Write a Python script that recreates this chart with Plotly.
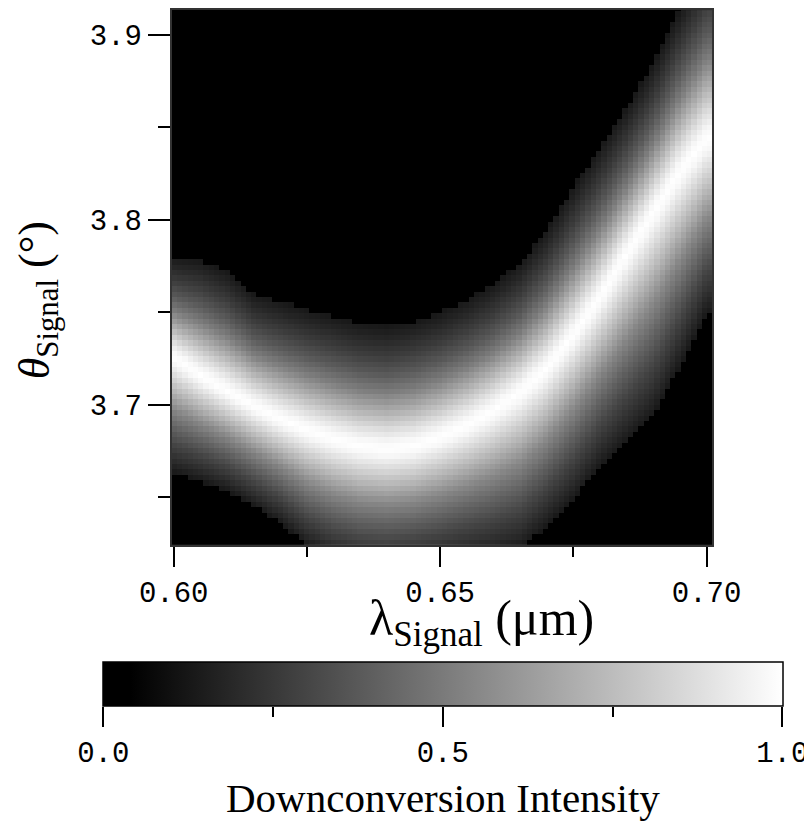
import numpy as np
import plotly.graph_objects as go

# ---- values ----
lam_pts = [0.600, 0.605, 0.610, 0.615, 0.620, 0.625, 0.630, 0.635, 0.640, 0.645, 0.650,
           0.655, 0.660, 0.665, 0.670, 0.675, 0.680, 0.685, 0.690, 0.695, 0.700]
# angle of the bright ridge (deg)
theta_ridge = [3.7255, 3.7158, 3.7072, 3.6991, 3.6921, 3.6862, 3.6813, 3.6775, 3.6759, 3.6775, 3.6824,
               3.6888, 3.6969, 3.7066, 3.7196, 3.7379, 3.7584, 3.7817, 3.8043, 3.8259, 3.8437]
# upper edge of the glow (where it turns black)
theta_top = [3.7800, 3.7784, 3.7719, 3.7601, 3.7557, 3.7514, 3.7477, 3.7439, 3.7423, 3.7450, 3.7498,
             3.7568, 3.7649, 3.7763, 3.7946, 3.8178, 3.8394, 3.8610, 3.8842, 3.9133, 3.9392]
# lower edge of the glow
theta_bot = [3.6629, 3.6586, 3.6532, 3.6451, 3.6359, 3.6235, 3.6154, 3.6111, 3.6100, 3.6111, 3.6132,
             3.6159, 3.6181, 3.6219, 3.6343, 3.6489, 3.6662, 3.6802, 3.6943, 3.7207, 3.7493]
# intensity profile across the band (fraction of distance ridge -> edge)
prof_up_t = [0.0, 0.06, 0.15, 0.30, 0.45, 0.60, 0.75, 0.90, 1.0]
prof_up_v = [1.0, 0.97, 0.88, 0.70, 0.52, 0.38, 0.27, 0.18, 0.13]
prof_dn_t = [0.0, 0.06, 0.15, 0.30, 0.45, 0.60, 0.75, 0.90, 1.0]
prof_dn_v = [1.0, 0.97, 0.88, 0.72, 0.55, 0.42, 0.30, 0.20, 0.13]

x_tickvals = [0.60, 0.65, 0.70]
x_ticktext = ["0.60", "0.65", "0.70"]
x_minor = [0.625, 0.675]
y_tickvals = [3.7, 3.8, 3.9]
y_ticktext = ["3.7", "3.8", "3.9"]
y_minor = [3.65, 3.75, 3.85]
cb_tickvals = [0.0, 0.5, 1.0]
cb_ticktext = ["0.0", "0.5", "1.0"]
cb_minor = [0.25, 0.75]

x_range = [0.5996, 0.7011]
y_range = [3.6241, 3.9133]

# ---- grid of cells ----
nx, ny = 102, 100
xe = np.linspace(x_range[0], x_range[1], nx + 1)
ye = np.linspace(3.6241, 3.9155, ny + 1)
xc = (xe[:-1] + xe[1:]) / 2
yc = (ye[:-1] + ye[1:]) / 2

R = np.interp(xc, lam_pts, theta_ridge)
T = np.interp(xc, lam_pts, theta_top)
B = np.interp(xc, lam_pts, theta_bot)

z = np.zeros((ny, nx))
for j, th in enumerate(yc):
    t_up = (th - R) / (T - R)
    t_dn = (R - th) / (R - B)
    v_up = np.interp(t_up, prof_up_t, prof_up_v, right=0.0)
    v_dn = np.interp(t_dn, prof_dn_t, prof_dn_v, right=0.0)
    z[j] = np.where(th >= R, v_up, v_dn)

# ---- layout geometry (pixels; page body has an 8px margin) ----
W, H = 804, 817
ml, mr, mt, mb = 92, 28, 0, 20
pw, ph = W - ml - mr, H - mt - mb


def px_x(p):  # reference-page x pixel -> paper fraction
    return (p - 8 - ml) / pw


def px_y(p):  # reference-page y pixel -> paper fraction
    return (H - mb - (p - 8)) / ph


mono = "Liberation Mono"
serif = "Liberation Serif"

fig = go.Figure()
fig.add_trace(go.Heatmap(
    x=xc, y=yc, z=z, zmin=0, zmax=1, zsmooth=False,
    colorscale=[[0, "rgb(0,0,0)"], [0.04, "rgb(0,0,0)"], [1, "rgb(255,255,255)"]],
    hoverinfo="skip",
    colorbar=dict(
        orientation="h", x=px_x(443.3), xanchor="center", y=px_y(661.7), yanchor="top",
        len=680, lenmode="pixels", thickness=44, thicknessmode="pixels",
        xpad=0, ypad=0, outlinewidth=1.5, outlinecolor="black",
        ticks="", showticklabels=False,
    ),
))
# carrier trace for the colorbar scale axis
fig.add_trace(go.Scatter(x=[None], y=[None], xaxis="x2", yaxis="y",
                         showlegend=False, hoverinfo="skip"))

tick_font = dict(family=mono, size=29, color="black")

fig.update_layout(
    width=W, height=H, margin=dict(l=ml, r=mr, t=mt, b=mb),
    paper_bgcolor="white", plot_bgcolor="rgba(0,0,0,0)", showlegend=False,
    xaxis=dict(
        domain=[px_x(171.7), px_x(713.3)], range=x_range,
        tickvals=x_tickvals, ticktext=x_ticktext, ticks="outside", ticklen=20, tickwidth=1.5,
        tickcolor="black", minor=dict(tickvals=x_minor, ticklen=10, tickwidth=1.5, tickcolor="black", ticks="outside"),
        showline=True, mirror=True, linecolor="#333", linewidth=1.5,
        showgrid=False, zeroline=False, tickfont=tick_font,
    ),
    yaxis=dict(
        domain=[px_y(544.3), 1.0], range=y_range,
        tickvals=y_tickvals, ticktext=y_ticktext, ticks="outside", ticklen=22, tickwidth=1.5,
        tickcolor="black", minor=dict(tickvals=y_minor, ticklen=12, tickwidth=1.5, tickcolor="black", ticks="outside"),
        showline=True, mirror=True, linecolor="#333", linewidth=1.5,
        showgrid=False, zeroline=False, tickfont=tick_font,
    ),
    xaxis2=dict(
        domain=[px_x(103.3), px_x(783.3)], range=[0, 1], anchor="free", position=px_y(705.7),
        tickvals=cb_tickvals, ticktext=cb_ticktext, ticks="outside", ticklen=20, tickwidth=1.5,
        tickcolor="black", minor=dict(tickvals=cb_minor, ticklen=10, tickwidth=1.5, tickcolor="black", ticks="outside"),
        showline=False, showgrid=False, zeroline=False, tickfont=tick_font,
    ),
)

fig.add_annotation(
    text="<i>θ</i><sub>Signal</sub> (°)", textangle=-90,
    xref="paper", yref="paper", x=px_x(37), y=px_y(299), xanchor="center", yanchor="middle",
    showarrow=False, font=dict(family=serif, size=44, color="black"),
)
fig.add_annotation(
    text="λ<sub>Signal</sub> (μm)",
    xref="paper", yref="paper", x=px_x(482), y=px_y(622), xanchor="center", yanchor="middle",
    showarrow=False, font=dict(family=serif, size=50, color="black"),
)
fig.add_annotation(
    text="Downconversion Intensity",
    xref="paper", yref="paper", x=px_x(444), y=px_y(798), xanchor="center", yanchor="middle",
    showarrow=False, font=dict(family=serif, size=41, color="black"),
)

fig.write_html("out.html")
